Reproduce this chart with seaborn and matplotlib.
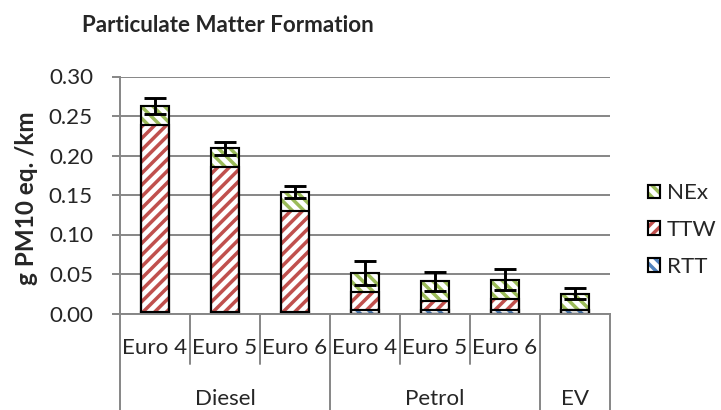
import numpy as np
import pandas as pd
import seaborn as sns
import matplotlib
matplotlib.use('Agg')
import matplotlib.pyplot as plt
from matplotlib.patches import Patch
from matplotlib.legend_handler import HandlerTuple

# Values (g PM10 eq. per km)
fuel = ['Diesel', 'Diesel', 'Diesel', 'Petrol', 'Petrol', 'Petrol', 'EV']
euro = ['Euro 4', 'Euro 5', 'Euro 6', 'Euro 4', 'Euro 5', 'Euro 6', '']
rtt = [0.002, 0.002, 0.002, 0.004, 0.004, 0.004, 0.004]
ttw = [0.236, 0.183, 0.128, 0.023, 0.012, 0.014, 0.0]
nex = [0.025, 0.024, 0.024, 0.024, 0.025, 0.025, 0.021]
err = [0.010, 0.008, 0.008, 0.015, 0.012, 0.013, 0.007]
series = ['NEx', 'TTW', 'RTT']
yticks = [0.00, 0.05, 0.10, 0.15, 0.20, 0.25, 0.30]

df = pd.DataFrame({'fuel': fuel, 'euro': euro, 'RTT': rtt, 'TTW': ttw, 'NEx': nex, 'err': err})
df['vehicle'] = df['fuel'] + ' ' + df['euro']
# cumulative tops for the stacked look (bars drawn tallest first)
df['rtt_top'] = df['RTT']
df['ttw_top'] = df['RTT'] + df['TTW']
df['nex_top'] = df['ttw_top'] + df['NEx']

sns.set_style('white')
plt.rcParams['font.family'] = ['Lato', 'DejaVu Sans']
plt.rcParams['hatch.linewidth'] = 1.8

DPI = 140
W, H = 721, 410
fig = plt.figure(figsize=(W / DPI, H / DPI), dpi=DPI)
ax = fig.add_axes([120 / W, 1 - 313.5 / H, 490 / W, 237 / H])

grey = '#868686'
layers = [('nex_top', '#9BBB59', '\\' * 4), ('ttw_top', '#C0504D', '/' * 4), ('rtt_top', '#4F81BD', '\\' * 4)]

# hatched fills
for col, c, h in layers:
    sns.barplot(data=df, x='vehicle', y=col, order=df['vehicle'], color='white', saturation=1,
                width=0.4, edgecolor=c, linewidth=0, hatch=h, errorbar=None, ax=ax)
# black outlines on top
for col, c, h in layers:
    sns.barplot(data=df, x='vehicle', y=col, order=df['vehicle'], color='black', fill=False,
                width=0.4, linewidth=1.1, errorbar=None, ax=ax)

ax.errorbar(x=np.arange(len(df)), y=df['nex_top'], yerr=df['err'], fmt='none', ecolor='black',
            elinewidth=1.5, capsize=5.5, capthick=1.5, zorder=5)

# two level category axis
tr = ax.get_xaxis_transform()
for i, lab in enumerate(euro):
    ax.text(i, -0.146, lab, transform=tr, ha='center', va='center', fontsize=11.5)
bounds = [0] + [i for i in range(1, len(fuel)) if fuel[i] != fuel[i - 1]] + [len(fuel)]
for i in range(len(fuel) + 1):
    y_end = -0.41 if i in bounds else -0.213
    ax.plot([i - 0.5, i - 0.5], [0, y_end], transform=tr, color=grey, lw=1.0, clip_on=False)
for a, b in zip(bounds[:-1], bounds[1:]):
    ax.text((a + b - 1) / 2, -0.36, fuel[a], transform=tr, ha='center', va='center', fontsize=11.5)

ax.set_xlim(-0.5, 6.5)
ax.set_ylim(0, 0.30)
ax.set_yticks(yticks)
ax.set_yticklabels([f'{v:.2f}' for v in yticks])
ax.tick_params(axis='y', left=True, length=4.1, width=1.0, color=grey, pad=9.8, labelsize=11.5)
ax.tick_params(axis='x', bottom=False, labelbottom=False)
ax.set_xlabel('')
ax.set_ylabel('')
ax.yaxis.grid(True, color=grey, linewidth=1.0)
ax.set_axisbelow(True)
for s in ['top', 'right']:
    ax.spines[s].set_visible(False)
for s in ['left', 'bottom']:
    ax.spines[s].set_color(grey)
    ax.spines[s].set_linewidth(1.0)

# legend: coloured hatch + black square outline
handles = []
for col, c, h in layers:
    handles.append((Patch(facecolor='white', edgecolor=c, linewidth=0, hatch=h),
                    Patch(facecolor='none', edgecolor='black', linewidth=1.1)))
fig.legend(handles, series, handler_map={tuple: HandlerTuple(ndivide=1)}, loc='center left',
           bbox_to_anchor=(648 / W, 1 - 230 / H), frameon=False, fontsize=11.5,
           handlelength=0.55, handleheight=0.55, handletextpad=0.3, labelspacing=0.75,
           borderpad=0, borderaxespad=0)

fig.text(82 / W, 1 - 25 / H, 'Particulate Matter Formation', fontsize=11.5, fontweight='bold',
         ha='left', va='center')
fig.text(27 / W, 1 - 198 / H, 'g PM10 eq. /km', rotation=90, fontsize=12.5, fontweight='bold',
         ha='center', va='center')

fig.savefig('out.png', dpi=DPI)
